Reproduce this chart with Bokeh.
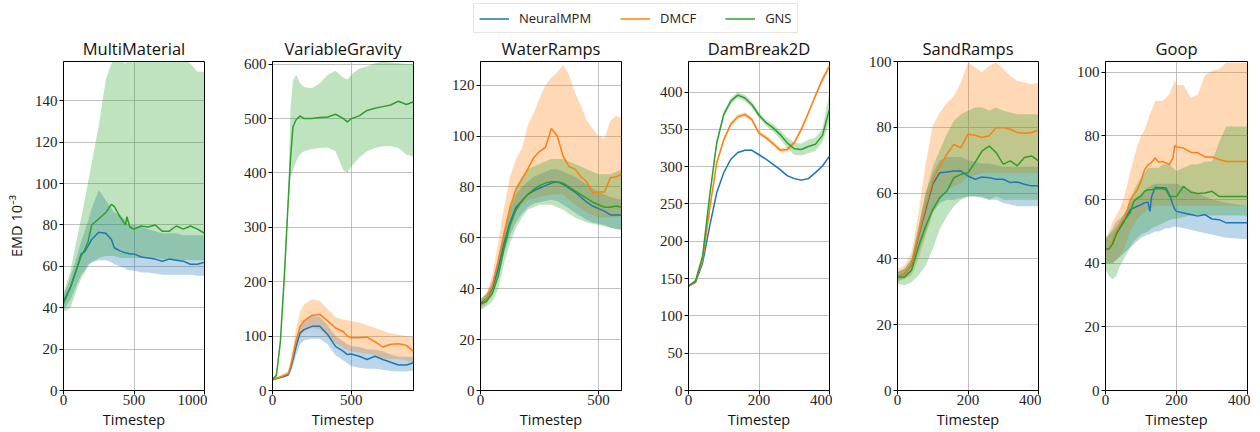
from bokeh.plotting import figure
from bokeh.layouts import column, row
from bokeh.models import Range1d, FixedTicker, Legend, LegendItem
from bokeh.embed import file_html
from bokeh.resources import INLINE

# ---------------- data ----------------
METHODS = ["NeuralMPM", "DMCF", "GNS"]
TITLES = ["MultiMaterial", "VariableGravity", "WaterRamps", "DamBreak2D", "SandRamps", "Goop"]

# MultiMaterial
MM_T = [0, 50, 100, 125, 150, 175, 200, 250, 300, 340, 360, 400, 440, 450, 470, 500, 550, 600, 650, 700, 750, 800, 850, 900, 950, 1000]
MM_NMPM_MEAN = [43, 50, 60, 66, 67, 70, 73, 76.5, 76, 73, 69, 67.5, 66.5, 66.5, 66, 66, 64.5, 64, 63.5, 62.5, 63.5, 63, 62.5, 61, 61, 62]
MM_NMPM_LO = [39, 44, 52, 56, 58, 61, 62, 63, 63, 62, 61, 60, 59, 58.5, 58, 58, 57, 57, 56.5, 56, 56, 56, 56, 56, 55.5, 55.5]
MM_NMPM_HI = [46, 55, 66, 72, 77, 82, 88, 97, 92, 88, 86, 85, 82, 81, 80, 80, 79, 78, 77, 76, 76, 76, 75, 75, 75, 75]
MM_GNS_MEAN = [42, 50, 60, 65, 68, 72, 80, 83, 86, 90, 89, 84, 80, 84, 79, 78, 79.5, 79, 80, 77, 77, 79.5, 78, 79.5, 78, 76]
MM_GNS_LO = [38, 40, 50, 54, 57, 60, 62, 64, 65, 65, 65, 64, 64, 64, 64, 64, 64, 64, 64, 63.5, 63.5, 63, 63, 63, 63, 63]
MM_GNS_HI = [47, 58, 75, 83, 92, 101, 110, 128, 150, 158, 160, 160, 158, 160, 160, 160, 160, 160, 160, 160, 160, 160, 160, 158, 154, 154]

# VariableGravity
VG_T = [0, 25, 50, 75, 100, 115, 130, 150, 175, 200, 250, 300, 350, 400, 450, 475, 500, 550, 600, 650, 700, 750, 800, 850, 895]
VG_NMPM_MEAN = [20, 22, 24, 26, 29, 40, 57, 81, 106, 112, 118, 118, 103, 81, 72, 66, 67, 63, 57, 63, 57, 52, 47, 47, 51]
VG_NMPM_LO = [18, 20, 22, 24, 26, 33, 45, 65, 85, 92, 95, 95, 85, 65, 55, 50, 45, 42, 40, 40, 38, 36, 35, 35, 37]
VG_NMPM_HI = [22, 24, 26, 29, 32, 45, 68, 95, 118, 128, 138, 135, 120, 100, 90, 85, 82, 80, 76, 75, 72, 66, 62, 62, 62]
VG_DMCF_MEAN = [20, 22, 25, 28, 31, 45, 65, 92, 118, 128, 138, 140, 128, 115, 108, 100, 97, 97, 98, 90, 80, 85, 86, 83, 72]
VG_DMCF_LO = [18, 20, 22, 25, 28, 38, 55, 78, 100, 108, 115, 112, 100, 88, 78, 75, 72, 70, 68, 65, 58, 58, 58, 55, 50]
VG_DMCF_HI = [22, 25, 28, 32, 36, 55, 80, 115, 145, 158, 168, 165, 150, 135, 130, 129, 128, 125, 120, 115, 110, 105, 103, 100, 98]
VG_GNS_MEAN = [20, 28, 90, 210, 350, 430, 485, 498, 505, 500, 500, 502, 503, 508, 500, 494, 500, 505, 515, 519, 522, 525, 532, 526, 531]
VG_GNS_LO = [18, 25, 85, 195, 335, 395, 405, 421, 435, 440, 444, 446, 447, 440, 405, 400, 412, 428, 440, 446, 449, 449, 446, 434, 430]
VG_GNS_HI = [22, 31, 95, 215, 365, 520, 570, 580, 565, 558, 556, 565, 580, 588, 575, 572, 580, 592, 596, 602, 605, 603, 602, 601, 600]

# WaterRamps
WR_T = [0, 25, 50, 75, 100, 125, 150, 175, 200, 225, 250, 275, 300, 325, 350, 375, 400, 425, 450, 475, 500, 525, 550, 575, 597]
WR_NMPM_MEAN = [34, 36, 40, 48, 58, 66, 72, 74.5, 77, 78.5, 79.5, 80.5, 81.5, 82, 81, 79.5, 78, 76, 74, 72.5, 71.5, 70.5, 69, 69, 69]
WR_NMPM_LO = [33, 35, 38, 45, 54, 61, 66, 69.5, 72, 73.5, 74, 74.5, 75, 74.5, 73, 71.5, 70, 68.5, 67, 66, 65.5, 65, 64, 63.5, 63]
WR_NMPM_HI = [36, 38, 43, 52, 62, 71, 77, 80, 82, 84, 85, 86, 87, 87, 86, 85, 84, 82.5, 81, 79.5, 78, 77, 76, 75.5, 75]
WR_DMCF_MEAN = [33.5, 36, 41, 51, 62, 72, 79, 83, 87, 91.5, 94, 95.5, 103, 100, 92, 88, 87, 84, 82, 77.7, 78, 78, 83.6, 84, 85]
WR_DMCF_LO = [32, 34, 38, 46, 55, 63, 70, 73, 75, 75.5, 76, 76.5, 77, 77, 77, 75, 73, 71.5, 70, 69, 68, 68, 68, 68, 68]
WR_DMCF_HI = [35, 38, 45, 58, 72, 84, 91, 95, 104, 109, 115, 120, 123, 125, 128, 124, 117, 112, 106, 103, 100, 99, 106, 108, 107]
WR_GNS_MEAN = [34, 35, 38, 45, 56, 65, 71, 74.5, 77, 79, 80.5, 81.5, 82, 82, 81.5, 80, 78.5, 77, 75.5, 74, 73, 72, 72, 72.5, 72]
WR_GNS_LO = [31.5, 33, 35, 40, 50, 58, 64, 68, 71, 72, 73, 73, 73, 72, 71, 69.5, 68, 67, 66, 65.5, 65, 64.5, 64, 63.5, 63.5]
WR_GNS_HI = [36, 38, 41, 50, 62, 72, 80, 84, 87, 88, 89, 90, 91, 91, 91, 90, 89, 88, 87, 86, 85, 85, 85, 86, 87]

# DamBreak2D
DB_T = [0, 20, 40, 60, 80, 100, 120, 140, 160, 180, 200, 220, 240, 260, 280, 300, 320, 340, 360, 380, 400]
DB_NMPM_MEAN = [140, 145, 171, 220, 265, 292, 310, 319, 322, 322, 316, 310, 303, 296, 288, 284, 282, 284, 292, 301, 314]
DB_NMPM_LO = [139, 144, 170, 219, 264, 291, 309, 318, 321, 321, 315, 309, 302, 295, 287, 283, 281, 283, 291, 300, 313]
DB_NMPM_HI = [141, 146, 172, 221, 266, 293, 311, 320, 323, 323, 317, 311, 304, 297, 289, 285, 283, 285, 293, 302, 315]
DB_DMCF_MEAN = [140, 146, 175, 243, 305, 336, 357, 367, 370, 363, 345, 339, 331, 322, 323, 332, 350, 372, 395, 417, 435]
DB_DMCF_LO = [139, 145, 173, 240, 302, 333, 354, 364, 367, 360, 342, 336, 328, 319, 320, 329, 347, 369, 392, 413, 431]
DB_DMCF_HI = [141, 147, 177, 246, 308, 339, 360, 370, 373, 366, 348, 342, 334, 325, 326, 335, 353, 375, 398, 421, 439]
DB_GNS_MEAN = [140, 147, 180, 261, 332, 370, 388, 396, 392, 383, 369, 359, 352, 343, 332, 324, 323, 327, 330, 342, 377]
DB_GNS_LO = [139, 145, 177, 257, 328, 366, 384, 392, 388, 379, 365, 355, 347, 337, 325, 316, 315, 318, 321, 333, 360]
DB_GNS_HI = [141, 149, 183, 265, 336, 374, 392, 400, 396, 387, 373, 363, 357, 349, 339, 332, 331, 336, 339, 351, 400]

# SandRamps
SR_T = [0, 20, 40, 60, 80, 100, 120, 140, 160, 180, 200, 220, 240, 260, 280, 300, 320, 340, 360, 380, 400]
SR_NMPM_MEAN = [34.5, 35.5, 38.3, 47, 55, 62.7, 66.2, 66.4, 66.7, 66.7, 65.2, 64.2, 64.9, 64.7, 64.2, 64.2, 63.2, 63.4, 62.7, 62.2, 62.2]
SR_NMPM_LO = [33.5, 34, 36, 42, 48, 54, 57, 58, 58, 58.5, 59, 59, 58.5, 58, 58, 57, 56.5, 56, 56, 56, 56]
SR_NMPM_HI = [36, 37, 40, 50, 60, 66, 70, 71, 71, 71, 70, 69.5, 69, 69, 68.5, 68, 68, 68, 68, 68, 68]
SR_DMCF_MEAN = [34.5, 35.5, 38.5, 47.5, 56, 63.7, 68.3, 71.8, 74.8, 73.8, 77.9, 77.6, 76.9, 77.4, 79.9, 79.9, 79.4, 78.4, 78.2, 78.4, 79.1]
SR_DMCF_LO = [33, 34, 35, 40, 47, 54, 58, 61, 62, 63, 65, 65.5, 66, 66, 66, 66, 66, 66, 66, 66, 66]
SR_DMCF_HI = [37, 38, 42, 54, 69, 80.4, 84.5, 87.5, 89.5, 93.6, 99.7, 98.2, 96.7, 98.7, 99.7, 97.7, 95.6, 94.1, 93.6, 93.1, 93.6]
SR_GNS_MEAN = [34.5, 34.5, 36.6, 43.9, 50, 55, 58.6, 60.6, 64.7, 65.7, 66.2, 69.3, 72.8, 74.3, 72.3, 68.8, 69.8, 68.3, 70.8, 71.3, 69.8]
SR_GNS_LO = [32.5, 32, 33, 35, 38, 43, 49, 53, 56, 58, 59, 59, 59, 58, 59, 58, 58, 58, 58, 58, 58]
SR_GNS_HI = [36, 37, 40, 50, 60, 68, 73, 78, 82, 84, 85, 86, 86, 85, 86, 85, 84.5, 84, 84, 84, 84]

# Goop
GP_T = [0, 10, 20, 30, 40, 50, 60, 70, 80, 90, 100, 110, 120, 125, 130, 140, 150, 160, 170, 180, 190, 195, 200, 220, 240, 260, 280, 300, 320, 340, 400]
GP_NMPM_MEAN = [44.5, 44.5, 46.4, 49.5, 51, 52.7, 54.8, 56.9, 57.4, 57.9, 58.4, 59, 59.2, 56.3, 61, 63.9, 63.7, 63.7, 63.7, 61.6, 58.4, 57, 56.3, 55.8, 55.3, 54.8, 55.3, 53.9, 53.7, 52.7, 52.7]
GP_NMPM_LO = [40, 40, 40, 41, 42, 43, 44, 45, 46, 47, 48, 48.5, 49, 49, 49.5, 50, 50, 50.5, 51, 51, 51.5, 51.5, 51.5, 51, 50.5, 50, 49.5, 49, 48.5, 48, 47.5]
GP_NMPM_HI = [47, 49, 51, 53, 54, 55, 57, 59, 60, 61, 62, 63, 64, 64, 64.5, 65, 65, 65, 65, 65, 65, 65, 65, 64, 63, 62, 61, 60, 59.5, 59, 58]
GP_DMCF_MEAN = [44, 44.5, 47, 50, 52, 53.5, 56, 60, 61.6, 63.1, 65.8, 69.4, 71, 71.3, 71.7, 73.1, 71.7, 72, 71.5, 71, 73.1, 77, 76.5, 76.2, 74.9, 74.7, 73.4, 73.4, 72.6, 72, 72]
GP_DMCF_LO = [40, 40, 40, 41, 42, 44, 47, 50, 52, 54, 55, 56, 57, 57, 57.5, 58, 58, 58, 58, 58, 58, 58, 58, 58, 58, 58, 58, 58, 58, 58, 58]
GP_DMCF_HI = [48, 50, 53, 55, 57, 60, 64, 69, 73, 77, 80, 82, 85, 87, 88, 91, 91, 91, 92, 93, 96, 97.5, 96, 96, 92, 93, 99, 100.5, 101, 103, 103]
GP_GNS_MEAN = [44.5, 44.5, 46, 49, 51, 53, 54.5, 56, 59.5, 60.5, 61, 62.6, 63.1, 63.1, 63.1, 63.4, 63.4, 63.4, 63.1, 61, 61, 61, 61, 64.2, 62.3, 61.9, 62.1, 62.6, 61, 61, 61]
GP_GNS_LO = [38, 36, 35, 36, 39, 41, 43, 45, 47, 48, 49, 49.5, 50, 50.5, 51, 51.5, 52, 52.5, 53, 53.5, 54, 54, 54, 54.5, 55, 55, 55, 55, 55, 55, 55]
GP_GNS_HI = [48, 49, 50, 51.5, 53, 55, 57, 60, 63, 65, 67, 68.5, 70, 70, 70, 70, 70, 71, 71, 71, 70, 69.5, 69, 70, 71, 71, 72, 72, 78, 83, 83]

# ---------------- style ----------------
COLORS = {"NeuralMPM": "#1f77b4", "DMCF": "#ff7f0e", "GNS": "#2ca02c"}
SANS = "Open Sans"
SERIF = "Liberation Serif"

panels = [
    ("MultiMaterial", MM_T, {"NeuralMPM": (MM_NMPM_MEAN, MM_NMPM_LO, MM_NMPM_HI),
                             "GNS": (MM_GNS_MEAN, MM_GNS_LO, MM_GNS_HI)},
     (0, 1000), (0, 159), [0, 500, 1000], list(range(0, 141, 20))),
    ("VariableGravity", VG_T, {"NeuralMPM": (VG_NMPM_MEAN, VG_NMPM_LO, VG_NMPM_HI),
                               "DMCF": (VG_DMCF_MEAN, VG_DMCF_LO, VG_DMCF_HI),
                               "GNS": (VG_GNS_MEAN, VG_GNS_LO, VG_GNS_HI)},
     (0, 895), (0, 605), [0, 500], list(range(0, 601, 100))),
    ("WaterRamps", WR_T, {"NeuralMPM": (WR_NMPM_MEAN, WR_NMPM_LO, WR_NMPM_HI),
                          "DMCF": (WR_DMCF_MEAN, WR_DMCF_LO, WR_DMCF_HI),
                          "GNS": (WR_GNS_MEAN, WR_GNS_LO, WR_GNS_HI)},
     (0, 597), (0, 129.3), [0, 500], list(range(0, 121, 20))),
    ("DamBreak2D", DB_T, {"NeuralMPM": (DB_NMPM_MEAN, DB_NMPM_LO, DB_NMPM_HI),
                          "DMCF": (DB_DMCF_MEAN, DB_DMCF_LO, DB_DMCF_HI),
                          "GNS": (DB_GNS_MEAN, DB_GNS_LO, DB_GNS_HI)},
     (0, 400), (0, 441), [0, 200, 400], list(range(0, 401, 50))),
    ("SandRamps", SR_T, {"NeuralMPM": (SR_NMPM_MEAN, SR_NMPM_LO, SR_NMPM_HI),
                         "DMCF": (SR_DMCF_MEAN, SR_DMCF_LO, SR_DMCF_HI),
                         "GNS": (SR_GNS_MEAN, SR_GNS_LO, SR_GNS_HI)},
     (0, 400), (0, 100), [0, 200, 400], list(range(0, 101, 20))),
    ("Goop", GP_T, {"NeuralMPM": (GP_NMPM_MEAN, GP_NMPM_LO, GP_NMPM_HI),
                    "DMCF": (GP_DMCF_MEAN, GP_DMCF_LO, GP_DMCF_HI),
                    "GNS": (GP_GNS_MEAN, GP_GNS_LO, GP_GNS_HI)},
     (0, 400), (0, 103.4), [0, 200, 400], list(range(0, 101, 20))),
]

# left border / frame width per panel (pixel layout)
LEFT_B = [63, 65, 64, 64, 65, 64]
FRAME_W = [141, 141, 141, 141, 141, 142]

figs = []
for i, (title, T, series, xr, yr, xt, yt) in enumerate(panels):
    p = figure(frame_width=FRAME_W[i], frame_height=329, output_backend="svg", toolbar_location=None,
               x_range=Range1d(*xr), y_range=Range1d(*yr), title=title,
               min_border_left=LEFT_B[i], min_border_right=3,
               min_border_top=24, min_border_bottom=41)
    p.title.text_font = SANS
    p.title.text_font_size = "16.5px"
    p.title.text_font_style = "normal"
    p.title.align = "center"
    p.title.text_color = "#111111"
    p.title.standoff = 3
    p.outline_line_color = "black"
    p.outline_line_alpha = 1
    p.outline_line_width = 1
    for m in METHODS:
        if m in series:
            mean, lo, hi = series[m]
            p.varea(x=T, y1=lo, y2=hi, fill_color=COLORS[m], fill_alpha=0.3)
    for m in METHODS:
        if m in series:
            mean, lo, hi = series[m]
            p.line(x=T, y=mean, line_color=COLORS[m], line_width=1.5)
    p.xaxis.ticker = FixedTicker(ticks=xt)
    p.yaxis.ticker = FixedTicker(ticks=yt)
    for ax in (p.xaxis[0], p.yaxis[0]):
        ax.major_label_text_font = SERIF
        ax.major_label_text_font_size = "15px"
        ax.major_label_text_color = "#222222"
        ax.minor_tick_line_color = None
        ax.major_tick_in = 0
        ax.major_tick_out = 4
        ax.major_tick_line_color = "black"
        ax.axis_line_color = "black"
        ax.major_label_standoff = 2
        ax.axis_label_text_font = SANS
        ax.axis_label_text_font_size = "14.5px"
        ax.axis_label_text_font_style = "normal"
        ax.axis_label_text_color = "#111111"
    p.xaxis.major_label_standoff = 0
    p.xaxis.axis_label = "Timestep"
    p.xaxis.axis_label_standoff = 2
    if i == 0:
        p.yaxis.axis_label = "EMD 10\u207b\u00b3"
        p.yaxis.axis_label_standoff = 6
    p.grid.grid_line_color = "#b0b0b0"
    p.grid.grid_line_width = 1
    p.grid.grid_line_alpha = 0.8
    figs.append(p)

# legend strip
lg = figure(width=1250, height=33, output_backend="svg", toolbar_location=None,
            x_range=Range1d(0, 1), y_range=Range1d(0, 1),
            min_border_left=0, min_border_right=0, min_border_top=0, min_border_bottom=0)
lg.axis.visible = False
lg.grid.visible = False
lg.outline_line_color = None
items = []
for m in METHODS:
    r = lg.line(x=[5, 6], y=[5, 5], line_color=COLORS[m], line_width=1.5)
    items.append(LegendItem(label=m, renderers=[r]))
leg = Legend(items=items, orientation="horizontal", location=(473, 0),
             label_text_font=SANS, label_text_font_size="13px", label_text_color="#222222",
             glyph_width=30, glyph_height=13, label_height=13, label_standoff=10,
             spacing=29, padding=5, margin=0,
             border_line_color="#cccccc", border_line_width=1, background_fill_color="white")
lg.add_layout(leg, "center")

layout = column(lg, row(*figs, spacing=0), spacing=0)
open("out.html", "w").write(file_html(layout, INLINE))
